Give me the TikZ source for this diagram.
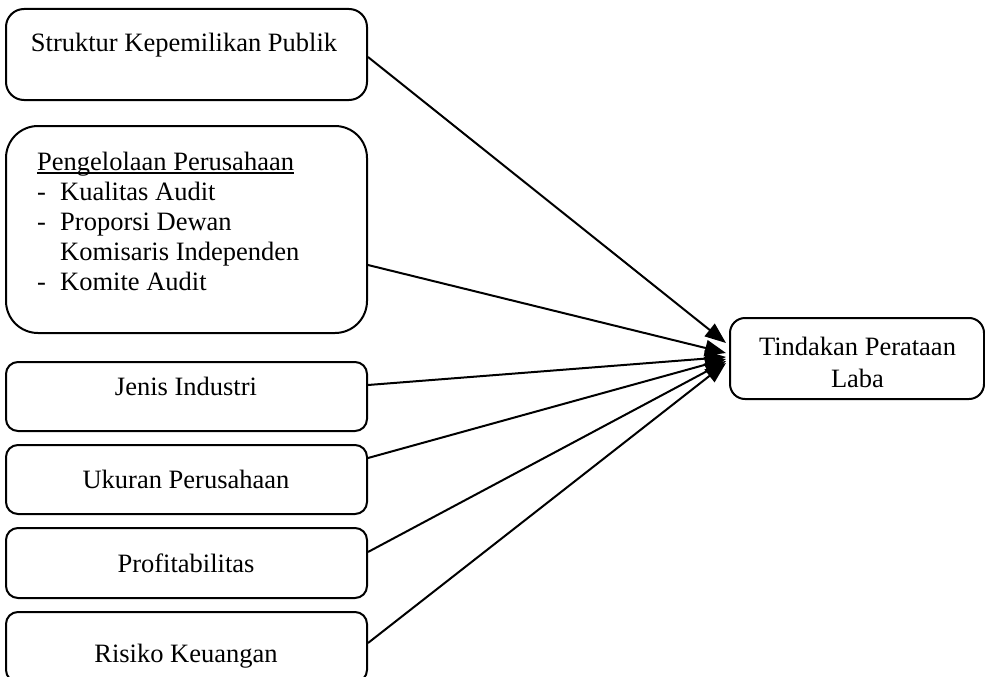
\documentclass[tikz,border=0pt]{standalone}
\usepackage{fontspec}
\setmainfont{Liberation Serif}
\usetikzlibrary{arrows.meta}
\begin{document}
\begin{tikzpicture}[x=1pt,y=-1pt,
  box/.style={draw=black,line width=2pt,inner sep=0pt,minimum width=361pt},
  txt/.style={inner sep=0pt,font=\fontsize{26.5pt}{30pt}\selectfont},
  arr/.style={line width=2pt,-{Triangle[length=21pt,width=16pt]}}]
\useasboundingbox (0,0) rectangle (985,677);
\begin{scope}
\clip (0,0) rectangle (985,677);
% boxes
\node[box,rounded corners=18pt,minimum height=91pt] (s1) at (186.5,54.5) {};
\node[box,rounded corners=32pt,minimum height=207pt] (s2) at (186.5,229.5) {};
\node[box,rounded corners=12pt,minimum height=69pt] (s3) at (186.5,396.5) {};
\node[box,rounded corners=12pt,minimum height=69pt] (s4) at (186.5,479.5) {};
\node[box,rounded corners=12pt,minimum height=70pt] (s5) at (186.5,563) {};
\node[box,rounded corners=12pt,minimum height=70pt] (s6) at (186.5,647) {};
\node[box,rounded corners=15pt,minimum width=254pt,minimum height=81pt] (tg) at (857,358.5) {};
\end{scope}
% texts
\node[txt,anchor=base] (t1) at (184,52) {Struktur Kepemilikan Publik};
\node[txt,anchor=base west] (h) at (37,170) {Pengelolaan Perusahaan};
\draw[line width=1.2pt] ([yshift=-3pt]h.base west) -- ([yshift=-3pt]h.base east);
\node[txt,anchor=base west] (d1) at (37,200) {-};
\node[txt,anchor=base west] (i1) at (60,200) {Kualitas Audit};
\node[txt,anchor=base west] (d2) at (37,230) {-};
\node[txt,anchor=base west] (i2) at (60,230) {Proporsi Dewan};
\node[txt,anchor=base west] (i3) at (60,260) {Komisaris Independen};
\node[txt,anchor=base west] (d3) at (37,290) {-};
\node[txt,anchor=base west] (i4) at (60,290) {Komite Audit};
\node[txt,anchor=base] (t3) at (186,395) {Jenis Industri};
\node[txt,anchor=base] (t4) at (186,488) {Ukuran Perusahaan};
\node[txt,anchor=base] (t5) at (186,572) {Profitabilitas};
\node[txt,anchor=base] (t6) at (186,662) {Risiko Keuangan};
\node[txt,anchor=base] (tt1) at (857.5,355) {Tindakan Perataan};
\node[txt,anchor=base] (tt2) at (857.5,387) {Laba};
% arrow tips
\coordinate (p1) at (726,343);
\coordinate (p2) at (726,353);
\coordinate (p3) at (726,357);
\coordinate (p4) at (726,359);
\coordinate (p5) at (726,361);
\coordinate (p6) at (726,363);
% arrows
\draw[arr] ([yshift=-2.5pt]s1.east) -- (p1);
\draw[arr] ([yshift=-35.5pt]s2.east) -- (p2);
\draw[arr] ([yshift=11.5pt]s3.east) -- (p3);
\draw[arr] ([yshift=21.5pt]s4.east) -- (p4);
\draw[arr] ([yshift=11pt]s5.east) -- (p5);
\draw[arr] ([yshift=4pt]s6.east) -- (p6);
\end{tikzpicture}
\end{document}
